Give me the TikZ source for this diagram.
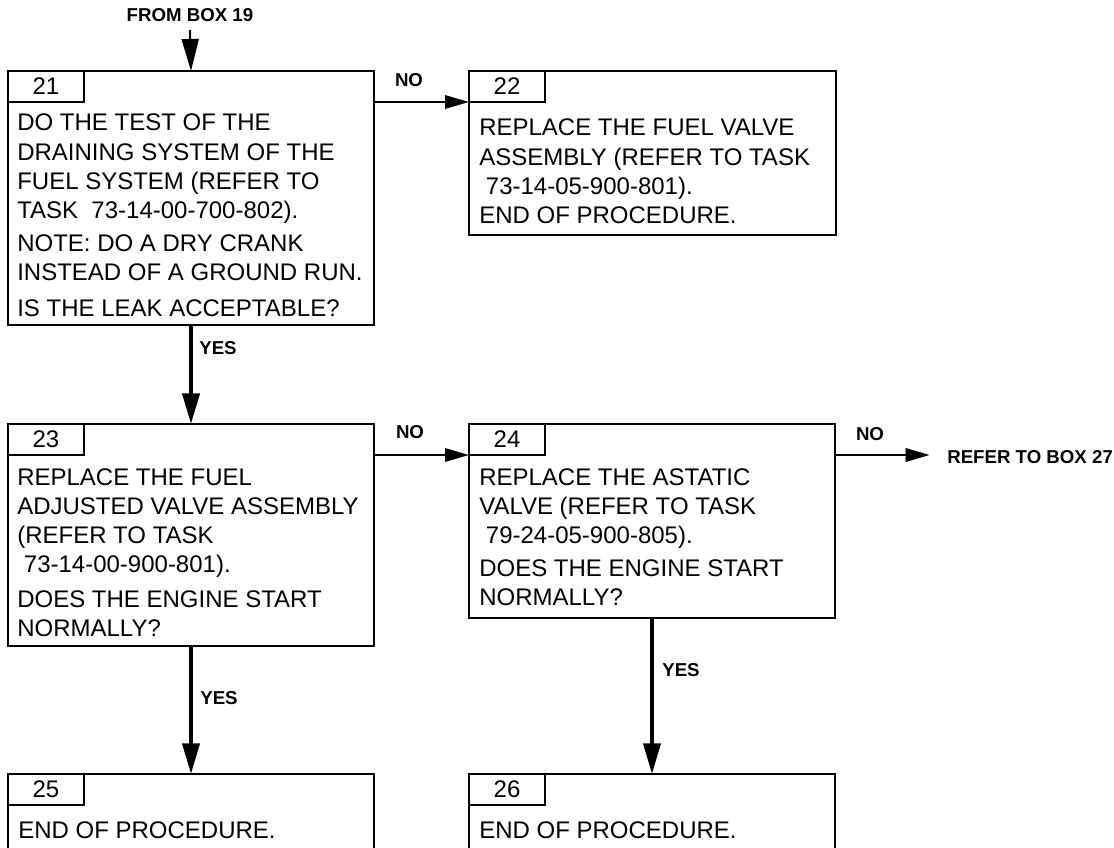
\documentclass[tikz,border=0pt]{standalone}
\usepackage{fontspec}
\setmainfont{Liberation Sans}
\usetikzlibrary{arrows.meta}
\tikzset{
 box/.style={draw, line width=1.7pt, rectangle, anchor=north west, inner sep=0pt, outer sep=0pt, minimum width=274.5pt},
 tab/.style={draw, line width=1.7pt, rectangle, anchor=north west, inner sep=0pt, outer sep=0pt, minimum width=57pt, minimum height=23.25pt, font=\fontsize{18}{20}\selectfont},
 body/.style={anchor=base west, inner sep=0pt, font=\fontsize{18}{22}\selectfont},
 lbl/.style={font=\fontsize{14}{15}\selectfont\bfseries, inner sep=0pt},
 varr/.style={line width=3pt, -{Triangle[length=23pt,width=12.75pt]}},
 harr/.style={line width=1.7pt, -{Triangle[length=18pt,width=10pt]}},
 toparr/.style={line width=1.5pt, -{Triangle[length=24pt,width=12.75pt]}},
}
\begin{document}
\begin{tikzpicture}[x=0.75pt,y=-0.75pt]
\useasboundingbox (0,0) rectangle (1114,848);
\clip (0,0) rectangle (1114,848);
% boxes
\node[box, minimum height=190.5pt] (b21) at (8,71) {};
\node[box, minimum width=275.25pt, minimum height=123pt] (b22) at (469,71) {};
\node[box, minimum height=166.5pt] (b23) at (8,424) {};
\node[box, minimum height=145.5pt] (b24) at (469,424) {};
\node[box, minimum height=90pt] (b25) at (8,774) {};
\node[box, minimum height=90pt] (b26) at (469,774) {};
% tabs
\node[tab] (t21) at (b21.north west) {21};
\node[tab] (t22) at (b22.north west) {22};
\node[tab] (t23) at (b23.north west) {23};
\node[tab] (t24) at (b24.north west) {24};
\node[tab] (t25) at (b25.north west) {25};
\node[tab] (t26) at (b26.north west) {26};
% texts
\node[body, xshift=6.75pt, yshift=-45pt] (x21) at (b21.north west) {\parbox[t]{270pt}{%
DO THE TEST OF THE\\
DRAINING SYSTEM OF THE\\
FUEL SYSTEM (REFER TO\\
TASK\ \ 73-14-00-700-802).\\[2.5pt]
NOTE: DO A DRY CRANK\\
INSTEAD OF A GROUND RUN.\\[4.5pt]
IS THE LEAK ACCEPTABLE?}};
\node[body, xshift=7.5pt, yshift=-48.75pt] (x22) at (b22.north west) {\parbox[t]{270pt}{%
REPLACE THE FUEL VALVE\\
ASSEMBLY (REFER TO TASK\\
\hspace*{5pt}73-14-05-900-801).\\
END OF PROCEDURE.}};
\node[body, xshift=6.75pt, yshift=-45.75pt] (x23) at (b23.north west) {\parbox[t]{270pt}{%
REPLACE THE FUEL\\
ADJUSTED VALVE ASSEMBLY\\
(REFER TO TASK\\
\hspace*{5pt}73-14-00-900-801).\\[3.5pt]
DOES THE ENGINE START\\
NORMALLY?}};
\node[body, xshift=7.5pt, yshift=-45.75pt] (x24) at (b24.north west) {\parbox[t]{270pt}{%
REPLACE THE ASTATIC\\
VALVE (REFER TO TASK\\
\hspace*{5pt}79-24-05-900-805).\\[2.5pt]
DOES THE ENGINE START\\
NORMALLY?}};
\node[body, xshift=7.5pt, yshift=-48.4pt] (x25) at (b25.north west) {END OF PROCEDURE.};
\node[body, xshift=7.5pt, yshift=-48.4pt] (x26) at (b26.north west) {END OF PROCEDURE.};
% labels
\node[lbl] (from19) at (190,15) {FROM BOX 19};
\node[lbl] (no1) at (409,80) {NO};
\node[lbl] (yes1) at (218,348) {YES};
\node[lbl] (no2) at (410,432) {NO};
\node[lbl] (no3) at (870,434) {NO};
\node[lbl] (yes2) at (219,698) {YES};
\node[lbl] (yes3) at (681,670) {YES};
\node[lbl, anchor=west] (refer) at (947,457) {REFER TO BOX 27};
% connectors
\draw[toparr] ([yshift=-6pt]from19.south) -- (b21.north);
\draw[harr] (b21.east |- t22.south west) -- (t22.south west);
\draw[varr] (b21.south) -- (b23.north);
\draw[harr] (b23.east |- t24.south west) -- (t24.south west);
\draw[harr, shorten >=13pt] (b24.east |- t24.south west) -- (refer.west |- t24.south west);
\draw[varr] (b23.south) -- (b25.north);
\draw[varr] (b24.south) -- (b26.north);
\end{tikzpicture}
\end{document}
